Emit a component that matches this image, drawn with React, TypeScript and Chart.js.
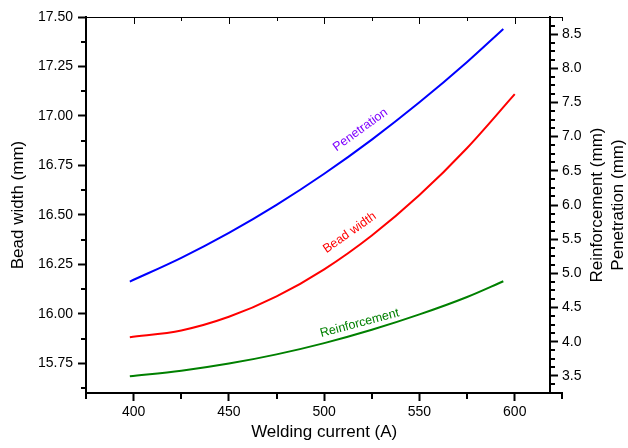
import { useEffect, useRef } from 'react';
import { Chart, registerables } from 'chart.js';

Chart.register(...registerables);

// ---- data ----
const currentShort = [398, 425, 450, 475, 500, 525, 550, 575, 594];
const currentLong = [398, 425, 450, 475, 500, 525, 550, 575, 600];
const beadWidth = [15.882, 15.916, 15.985, 16.088, 16.225, 16.396, 16.600, 16.838, 17.110];
const penetration = [4.88, 5.227, 5.592, 6.002, 6.457, 6.957, 7.502, 8.092, 8.575];
const reinforcement = [3.494, 3.575, 3.680, 3.815, 3.980, 4.175, 4.400, 4.655, 4.885];

// ---- tick values ----
const xMajor = [400, 450, 500, 550, 600];
const xMinor = [375, 425, 475, 525, 575, 625];
const leftMajor = [15.75, 16.0, 16.25, 16.5, 16.75, 17.0, 17.25, 17.5];
const leftMinor = [15.625, 15.875, 16.125, 16.375, 16.625, 16.875, 17.125, 17.375];
const rightMajor = [3.5, 4.0, 4.5, 5.0, 5.5, 6.0, 6.5, 7.0, 7.5, 8.0, 8.5];
const rightMinor = [
  3.375, 3.625, 3.75, 3.875, 4.125, 4.25, 4.375, 4.625, 4.75, 4.875,
  5.125, 5.25, 5.375, 5.625, 5.75, 5.875, 6.125, 6.25, 6.375, 6.625,
  6.75, 6.875, 7.125, 7.25, 7.375, 7.625, 7.75, 7.875, 8.125, 8.25,
  8.375, 8.625,
];

const FONT = '"Liberation Sans", Arial, sans-serif';

// curve labels: [text, x value, y value, axis, angle (deg), colour]
const curveLabels: [string, number, number, string, number, string][] = [
  ['Penetration', 519.0, 7.10, 'y2', -36, '#7f00ff'],
  ['Bead width', 513.4, 16.41, 'y', -35, '#ff0000'],
  ['Reinforcement', 518.6, 4.27, 'y2', -15, '#008000'],
];

const framePlugin = {
  id: 'frame',
  afterLayout(chart: any) {
    const xs = chart.scales.x;
    xs.right = xs.getPixelForValue(625);
  },
  afterDraw(chart: any) {
    const { ctx, chartArea, scales } = chart;
    const xs = scales.x;
    const yl = scales.y;
    const yr = scales.y2;
    const line = (x1: number, y1: number, x2: number, y2: number) => {
      ctx.beginPath();
      ctx.moveTo(x1, y1);
      ctx.lineTo(x2, y2);
      ctx.stroke();
    };
    ctx.save();
    ctx.strokeStyle = '#000';
    // top frame line with inward ticks
    const top = chartArea.top;
    const xs0 = xs.getPixelForValue(375);
    const xs1 = xs.getPixelForValue(625);
    ctx.lineWidth = 1;
    line(xs0, top + 0.5, xs1, top + 0.5);
    xMajor.forEach((v) => {
      const px = Math.round(xs.getPixelForValue(v)) + 0.5;
      line(px, top, px, top + 7);
    });
    xMinor.forEach((v) => {
      const px = Math.round(xs.getPixelForValue(v)) + 0.5;
      line(px, top, px, top + 4);
    });
    // bottom minor ticks
    ctx.lineWidth = 2;
    const bottom = chartArea.bottom;
    xMinor.forEach((v) => {
      const px = Math.round(xs.getPixelForValue(v));
      line(px, bottom, px, bottom + 6);
    });
    // left minor ticks
    const lx = chartArea.left;
    leftMinor.forEach((v) => {
      const py = Math.round(yl.getPixelForValue(v));
      line(lx - 5, py, lx, py);
    });
    // right minor ticks
    const rx = yr.left;
    rightMinor.forEach((v) => {
      const py = Math.round(yr.getPixelForValue(v));
      line(rx, py, rx + 5, py);
    });
    // right axis titles (read bottom to top)
    ctx.fillStyle = '#000';
    ctx.font = '17px ' + FONT;
    ctx.textAlign = 'center';
    ctx.textBaseline = 'middle';
    const cy = (chartArea.top + chartArea.bottom) / 2;
    [['Reinforcement (mm)', 597], ['Penetration (mm)', 618]].forEach(([t, x]) => {
      ctx.save();
      ctx.translate(x as number, cy);
      ctx.rotate(-Math.PI / 2);
      ctx.fillText(t as string, 0, 0);
      ctx.restore();
    });
    // curve labels
    ctx.font = '12.5px ' + FONT;
    curveLabels.forEach(([t, xv, yv, axis, ang, col]) => {
      const px = xs.getPixelForValue(xv);
      const py = scales[axis].getPixelForValue(yv);
      ctx.save();
      ctx.translate(px, py);
      ctx.rotate((ang * Math.PI) / 180);
      ctx.fillStyle = col;
      ctx.fillText(t, 0, 0);
      ctx.restore();
    });
    ctx.restore();
  },
};

export default function App() {
  const ref = useRef<HTMLCanvasElement>(null);
  useEffect(() => {
    const canvas = ref.current!;
    Chart.defaults.font.family = FONT;
    const toXY = (xs: number[], ys: number[]) => xs.map((x, i) => ({ x, y: ys[i] }));
    const lineStyle = { borderWidth: 2, pointRadius: 0, cubicInterpolationMode: 'monotone' };
    const chart = new Chart(canvas, {
      type: 'line',
      data: {
        datasets: [
          { label: 'Penetration', data: toXY(currentShort, penetration), borderColor: '#0000ff', yAxisID: 'y2', ...lineStyle },
          { label: 'Bead width', data: toXY(currentLong, beadWidth), borderColor: '#ff0000', yAxisID: 'y', ...lineStyle },
          { label: 'Reinforcement', data: toXY(currentShort, reinforcement), borderColor: '#008000', yAxisID: 'y2', ...lineStyle },
        ],
      },
      options: {
        responsive: false,
        animation: false,
        devicePixelRatio: 1,
        layout: { padding: { top: 17, left: 0, right: 0, bottom: 0 } },
        plugins: { legend: { display: false }, tooltip: { enabled: false } },
        scales: {
          x: {
            type: 'linear',
            position: 'bottom',
            min: 375,
            max: 618.5,
            afterFit: (s: any) => { s.height = 55; },
            afterBuildTicks: (s: any) => { s.ticks = xMajor.map((v) => ({ value: v })); },
            grid: { drawOnChartArea: false, tickLength: 8, tickWidth: 2, tickColor: '#000', color: '#000' },
            border: { display: true, color: '#000', width: 2 },
            ticks: { color: '#000', font: { size: 14 }, padding: 3, maxRotation: 0, callback: (v: any) => String(v) },
            title: { display: true, text: 'Welding current (A)', color: '#000', font: { size: 17 }, padding: { top: 0, bottom: 5 } },
          },
          y: {
            type: 'linear',
            position: 'left',
            min: 15.6,
            max: 17.5,
            afterFit: (s: any) => { s.width = 86; },
            afterBuildTicks: (s: any) => { s.ticks = leftMajor.map((v) => ({ value: v })); },
            grid: { drawOnChartArea: false, tickLength: 8, tickWidth: 2, tickColor: '#000', color: '#000' },
            border: { display: true, color: '#000', width: 2 },
            ticks: { color: '#000', font: { size: 14 }, padding: 5, callback: (v: any) => Number(v).toFixed(2) },
            title: { display: true, text: 'Bead width (mm)', color: '#000', font: { size: 17 }, padding: { top: 8, bottom: 0 } },
          },
          y2: {
            type: 'linear',
            position: 'right',
            min: 3.25,
            max: 8.75,
            afterFit: (s: any) => { s.width = 78; },
            afterBuildTicks: (s: any) => { s.ticks = rightMajor.map((v) => ({ value: v })); },
            grid: { drawOnChartArea: false, tickLength: 8, tickWidth: 2, tickColor: '#000', color: '#000' },
            border: { display: true, color: '#000', width: 2 },
            ticks: { color: '#000', font: { size: 14 }, padding: 4, callback: (v: any) => Number(v).toFixed(1) },
          },
        },
      },
      plugins: [framePlugin],
    } as any);
    return () => chart.destroy();
  }, []);
  return (
    <div style={{ position: 'absolute', left: 0, top: 0, width: 628, height: 448, background: '#fff' }}>
      <canvas ref={ref} width={628} height={448} style={{ display: 'block' }} />
    </div>
  );
}
